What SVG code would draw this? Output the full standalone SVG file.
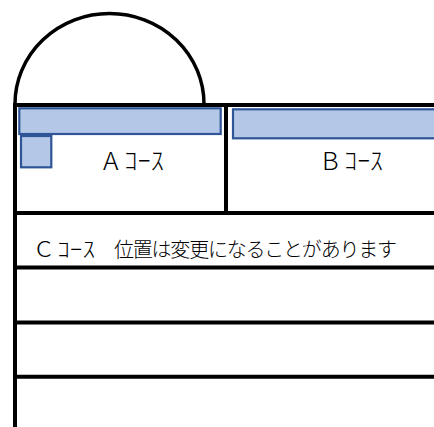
<svg xmlns="http://www.w3.org/2000/svg" width="434" height="427" viewBox="0 0 434 427">
<style>
.ln{stroke:#000;stroke-width:4;fill:none}
.bar{fill:#B4C7E7;stroke:#2F5597;stroke-width:2.2}
.t{font-family:"Noto Sans CJK JP","Noto Sans",sans-serif;font-weight:300;fill:#000}
</style>
<rect width="434" height="427" fill="#fff"/>
<g id="dome">
<path d="M15,104 A94.5,90.5 0 0 1 204,104" fill="none" stroke="#000" stroke-width="3.5"/>
</g>
<g id="lines">
<line class="ln" x1="15" y1="103" x2="15" y2="427"/>
<line class="ln" x1="13" y1="105" x2="434" y2="105"/>
<line class="ln" x1="226" y1="105" x2="226" y2="213"/>
<line class="ln" x1="13" y1="213" x2="434" y2="213"/>
<line class="ln" x1="13" y1="267.5" x2="434" y2="267.5"/>
<line class="ln" x1="13" y1="322.5" x2="434" y2="322.5"/>
<line class="ln" x1="13" y1="376.7" x2="434" y2="376.7"/>
</g>
<g id="courseA">
<rect class="bar" x="19.3" y="108.3" width="201.4" height="25.7"/>
<rect class="bar" x="21" y="136" width="30.3" height="31.3"/>
<text class="t" x="103" y="170" font-size="25" textLength="61" lengthAdjust="spacingAndGlyphs">A ｺｰｽ</text>
</g>
<g id="courseB">
<rect class="bar" x="233" y="109.3" width="210" height="29"/>
<text class="t" x="322" y="170" font-size="25" textLength="61" lengthAdjust="spacingAndGlyphs">B ｺｰｽ</text>
</g>
<g id="courseC">
<text class="t" x="36" y="257" font-size="22" textLength="59" lengthAdjust="spacingAndGlyphs">C ｺｰｽ</text>
<text class="t" x="114" y="257" font-size="20" textLength="283" lengthAdjust="spacing">位置は変更になることがあります</text>
</g>
</svg>
